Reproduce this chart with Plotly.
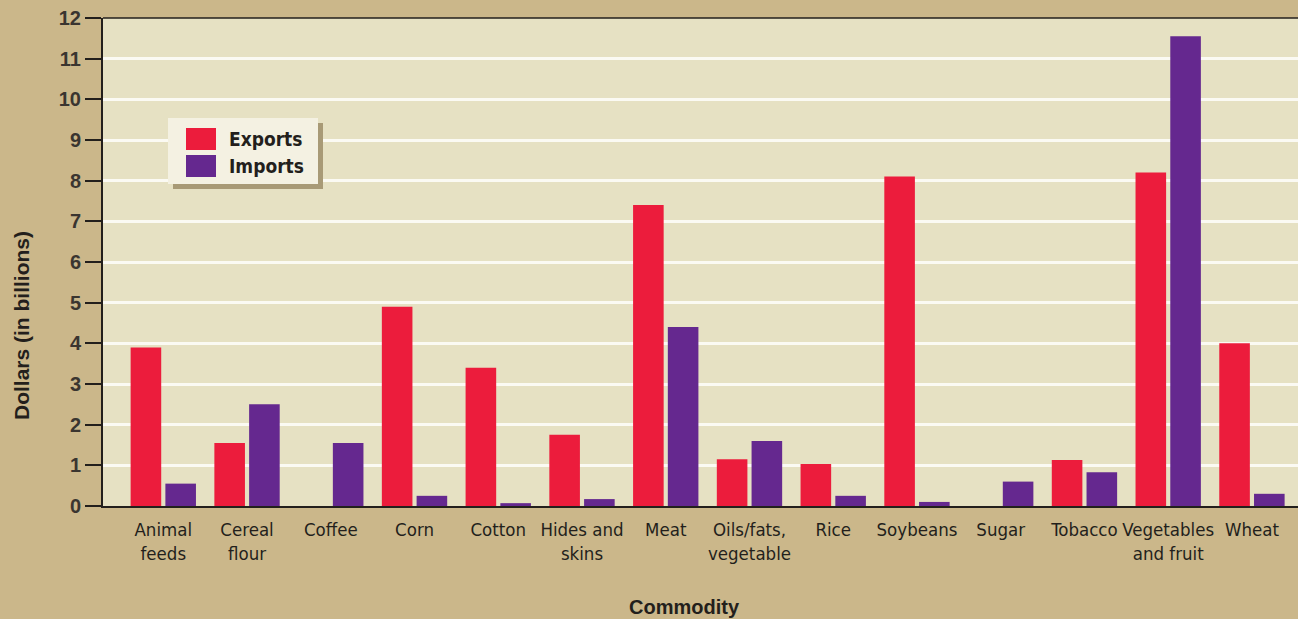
import plotly.graph_objects as go

# Commodity trade values, billions of dollars
commodities = ["Animal<br>feeds", "Cereal<br>flour", "Coffee", "Corn", "Cotton",
               "Hides and<br>skins", "Meat", "Oils/fats,<br>vegetable", "Rice",
               "Soybeans", "Sugar", "Tobacco", "Vegetables<br>and fruit", "Wheat"]
exports = [3.9, 1.55, 0, 4.9, 3.4, 1.75, 7.4, 1.15, 1.03, 8.1, 0, 1.13, 8.2, 4.0]
imports = [0.55, 2.5, 1.55, 0.25, 0.07, 0.17, 4.4, 1.6, 0.25, 0.1, 0.6, 0.83, 11.55, 0.3]
y_ticks = list(range(0, 13))
series_names = ["Exports", "Imports"]

RED = "#ec1c3c"
PURPLE = "#65288f"
PAPER = "#cbb78a"
PLOT_BG = "#e6e1c3"
INK = "#231f1c"
NARROW = "DejaVu Sans Condensed, Roboto Condensed, Liberation Sans Narrow, Roboto, sans-serif"
SANS = "Liberation Sans, Arial, sans-serif"

fig = go.Figure()
fig.add_trace(go.Bar(name=series_names[0], x=commodities, y=exports,
                     marker=dict(color=RED, line=dict(width=0))))
fig.add_trace(go.Bar(name=series_names[1], x=commodities, y=imports,
                     marker=dict(color=PURPLE, line=dict(width=0))))

# helpers: pixel position -> paper fraction of the plotting area
def px_x(p):
    return (p - 103) / 1195

def px_y(p):
    return (506 - p) / 488

# Legend panel: shadow, box, swatches and labels
fig.add_shape(type="rect", xref="paper", yref="paper",
              x0=px_x(173), x1=px_x(323), y0=px_y(189), y1=px_y(123),
              fillcolor="#a89a76", line=dict(width=0), layer="above")
fig.add_shape(type="rect", xref="paper", yref="paper",
              x0=px_x(168), x1=px_x(318), y0=px_y(184), y1=px_y(118),
              fillcolor="#f4f1e2", line=dict(width=0), layer="above")
for i, (name, color) in enumerate(zip(series_names, [RED, PURPLE])):
    top = 128 + i * 27
    fig.add_shape(type="rect", xref="paper", yref="paper",
                  x0=px_x(186), x1=px_x(216), y0=px_y(top + 22), y1=px_y(top),
                  fillcolor=color, line=dict(width=0), layer="above")
    fig.add_annotation(xref="paper", yref="paper", x=px_x(227), y=px_y(top + 11),
                       xanchor="left", yanchor="middle", showarrow=False,
                       text=name,
                       font=dict(family=NARROW, size=19, color=INK, weight="bold"))

# axis titles
fig.add_annotation(xref="paper", yref="paper", x=px_x(22), y=px_y(326),
                   xanchor="center", yanchor="middle", showarrow=False,
                   textangle=-90, text="Dollars (in billions)",
                   font=dict(family=SANS, size=21, color=INK, weight="bold"))
fig.add_annotation(xref="paper", yref="paper", x=px_x(684), y=px_y(607),
                   xanchor="center", yanchor="middle", showarrow=False,
                   text="Commodity",
                   font=dict(family=SANS, size=20, color=INK, weight="bold"))

fig.update_layout(
    width=1298, height=619,
    margin=dict(l=103, r=0, t=18, b=113),
    paper_bgcolor=PAPER,
    plot_bgcolor=PLOT_BG,
    barmode="group",
    bargap=0.17,
    bargroupgap=0.12,
    showlegend=False,
    xaxis=dict(
        range=[-0.72, 13.55],
        automargin=False,
        showgrid=False,
        showline=True, linecolor=INK, linewidth=2,
        ticks="", tickangle=0, ticklabelstandoff=6,
        tickfont=dict(family=NARROW, size=18.5, color=INK),
    ),
    yaxis=dict(
        range=[0, 12],
        automargin=False,
        tickvals=y_ticks,
        showgrid=True, gridcolor="#fbfaf3", gridwidth=3,
        zeroline=False,
        showline=True, linecolor=INK, linewidth=2, mirror=False,
        ticks="outside", ticklen=16, tickwidth=1.5, tickcolor=INK,
        tickfont=dict(family=SANS, size=20, color="#3a3530", weight="bold"),
    ),
)

# thin frame along the top of the plotting area
fig.add_shape(type="line", xref="paper", yref="paper", x0=0, x1=1, y0=1, y1=1,
              line=dict(color=INK, width=1.5))

fig.write_html("out.html")
